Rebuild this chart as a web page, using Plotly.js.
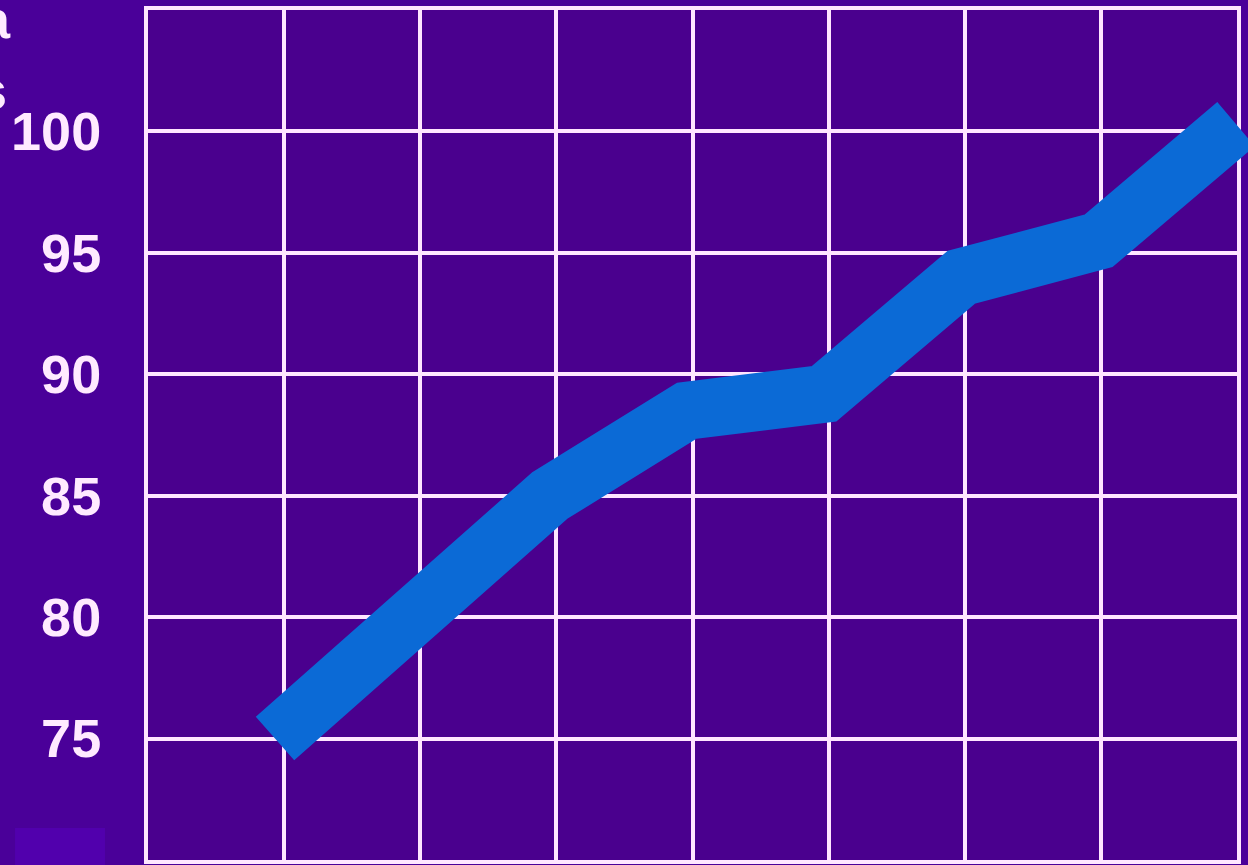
<!DOCTYPE html>
<html>
<head>
<meta charset="utf-8">
<script src="https://cdn.plot.ly/plotly-3.0.1.min.js"></script>
<style>
  html, body { margin: 0; padding: 0; background: #4a0099; }
  #chart { width: 1248px; height: 865px; }
</style>
</head>
<body>
<div id="chart"></div>
<script>
// Series: one score per period, left to right
const periods = [1, 2, 3, 4, 5, 6, 7, 8];
const scores = [75, 80, 85, 88.5, 89.2, 94, 95.5, 100.3];

// Value axis ticks
const yTickVals = [75, 80, 85, 90, 95, 100];
const yTickText = ['75', '80', '85', '90', '95', '100'];

// Partial caption letters at the upper left
const captionLines = ['a', 's'];

const gridColor = '#ffe6ff';
const labelColor = '#ffeaff';
const lineColor = '#0b6ad6';
const labelFont = { family: 'Liberation Sans, Arial, sans-serif', size: 54, color: labelColor, weight: 'bold' };

const traces = [
  // empty trace that keeps the framed grid subplot alive
  { x: [], y: [], xaxis: 'x', yaxis: 'y', type: 'scatter', mode: 'lines', hoverinfo: 'skip', showlegend: false },
  {
    x: periods,
    y: scores,
    xaxis: 'x2',
    yaxis: 'y2',
    type: 'scatter',
    mode: 'lines',
    line: { color: lineColor, width: 58, shape: 'linear' },
    hoverinfo: 'skip',
    showlegend: false
  }
];

const layout = {
  width: 1248,
  height: 865,
  margin: { l: 148, r: 0, t: 10, b: 5, pad: 0 },
  paper_bgcolor: '#4a0099',
  plot_bgcolor: 'rgba(0,0,0,0)',
  hovermode: false,
  showlegend: false,
  xaxis: {
    domain: [0, 0.99],
    range: [0, 8],
    tick0: 0,
    dtick: 1,
    showgrid: true,
    gridcolor: gridColor,
    gridwidth: 4,
    showticklabels: false,
    ticks: '',
    zeroline: false,
    showline: true,
    linecolor: gridColor,
    linewidth: 4,
    mirror: true,
    anchor: 'y',
    fixedrange: true
  },
  yaxis: {
    domain: [0, 1],
    range: [70, 105],
    tickmode: 'array',
    tickvals: yTickVals,
    ticktext: yTickText,
    showgrid: true,
    gridcolor: gridColor,
    gridwidth: 4,
    zeroline: false,
    showline: true,
    linecolor: gridColor,
    linewidth: 4,
    mirror: true,
    ticks: 'outside',
    ticklen: 32,
    tickcolor: 'rgba(0,0,0,0)',
    tickfont: labelFont,
    anchor: 'x',
    fixedrange: true
  },
  xaxis2: {
    domain: [0, 1],
    range: [0.075, 8.087],
    visible: false,
    anchor: 'y2',
    fixedrange: true
  },
  yaxis2: {
    domain: [0, 1],
    range: [70, 105],
    visible: false,
    anchor: 'x2',
    fixedrange: true
  },
  shapes: [
    // plot area fill, under the grid
    { type: 'rect', xref: 'x', yref: 'y', x0: 0, x1: 8, y0: 70, y1: 105,
      fillcolor: '#4a008e', line: { width: 0 }, layer: 'below' },
    // small lighter tile at the lower left
    { type: 'rect', xref: 'paper', yref: 'paper', x0: -0.1209, x1: -0.0391, y0: -0.006, y1: 0.0376,
      fillcolor: '#5100ad', line: { width: 0 }, layer: 'below' }
  ],
  annotations: [
    { text: captionLines[0], xref: 'paper', yref: 'paper', x: -0.1227, y: 0.9894,
      xanchor: 'right', yanchor: 'middle', showarrow: false, font: labelFont },
    { text: captionLines[1], xref: 'paper', yref: 'paper', x: -0.1264, y: 0.9059,
      xanchor: 'right', yanchor: 'middle', showarrow: false, font: labelFont }
  ]
};

Plotly.newPlot('chart', traces, layout, { displayModeBar: false, staticPlot: true });
</script>
</body>
</html>
